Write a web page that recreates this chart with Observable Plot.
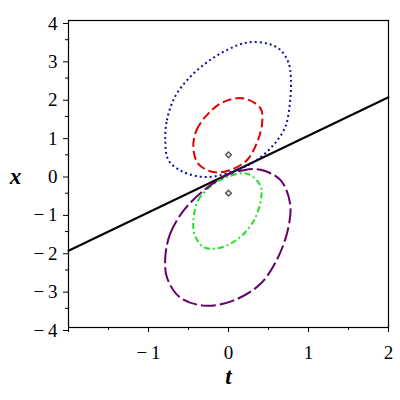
<!DOCTYPE html>
<html>
<head>
<meta charset="utf-8">
<script src="https://cdn.jsdelivr.net/npm/d3@7"></script>
<script src="https://cdn.jsdelivr.net/npm/@observablehq/plot@0.6"></script>
<style>
html,body{margin:0;padding:0;background:#fff;}
#chart svg, #chart svg text { font-family: "Liberation Serif", "Times New Roman", serif !important; }
</style>
</head>
<body>
<div id="chart"></div>
<script>
// Axis ticks
const xMajor = [-2, -1, 0, 1, 2];
const xLabels = ["", "\u2212\u20091", "0", "1", "2"];
const xMinor = [-1.5, -0.5, 0.5, 1.5];
const yMajor = [-4, -3, -2, -1, 0, 1, 2, 3, 4];
const yLabels = ["\u2212\u20094", "\u2212\u20093", "\u2212\u20092", "\u2212\u20091", "0", "1", "2", "3", "4"];
const yMinor = [-3.5, -2.5, -1.5, -0.5, 0.5, 1.5, 2.5, 3.5];

// Straight line
const lineT = [-2, 2];
const lineX = [-2, 2];

// Marked points
const ptT = [0, 0];
const ptX = [0.5, -0.5];

// Blue dotted curve (points read around the curve)
const blueT = [-0.79, -0.77, -0.67, -0.48, -0.23, 0.02, 0.25, 0.50, 0.65, 0.75, 0.78, 0.77, 0.71, 0.56, 0.35, 0.10, -0.27, -0.56, -0.75];
const blueX = [0.88, 1.40, 2.01, 2.53, 2.97, 3.27, 3.43, 3.39, 3.23, 2.90, 2.50, 1.90, 1.23, 0.75, 0.36, 0.10, -0.08, 0.05, 0.36];

// Red dashed curve
const redT = [-0.44, -0.40, -0.25, -0.06, 0.19, 0.40, 0.42, 0.35, 0.23, 0.02, -0.19, -0.38];
const redX = [0.70, 1.14, 1.58, 1.88, 1.97, 1.71, 1.32, 0.79, 0.36, 0.10, 0.05, 0.27];

// Green dash-dot curve
const greenT = [-0.44, -0.38, -0.21, -0.02, 0.23, 0.40, 0.41, 0.33, 0.15, -0.10, -0.31, -0.42];
const greenX = [-1.25, -0.69, -0.30, -0.08, 0.01, -0.30, -0.60, -1.16, -1.64, -1.92, -1.91, -1.60];

// Purple long-dash curve
const purpleT = [-0.79, -0.73, -0.56, -0.31, -0.02, 0.19, 0.40, 0.65, 0.77, 0.75, 0.62, 0.40, 0.06, -0.31, -0.61, -0.77];
const purpleX = [-2.17, -1.56, -0.95, -0.43, -0.03, 0.10, 0.11, -0.16, -0.77, -1.38, -2.17, -2.86, -3.30, -3.43, -3.21, -2.69];

const toPts = (ts, xs) => ts.map((t, i) => ({t, x: xs[i]}));
const serif = "Liberation Serif";

const curve = (ts, xs, color, dash) => Plot.line(toPts(ts, xs), {
  x: "t", y: "x", curve: "catmull-rom-closed",
  stroke: color, strokeWidth: 2, strokeDasharray: dash, strokeLinecap: "butt"
});

const chart = Plot.plot({
  width: 400,
  height: 400,
  marginLeft: 68,
  marginRight: 12,
  marginTop: 20,
  marginBottom: 73,
  style: {fontFamily: serif, fontSize: "19px", color: "black", background: "white"},
  x: {domain: [-2, 2]},
  y: {domain: [-4, 4]},
  marks: [
    Plot.frame({stroke: "black", strokeWidth: 1.2}),
    Plot.axisX(xMajor, {tickSize: 5, tickPadding: 13, tickFormat: d => xLabels[xMajor.indexOf(d)], label: null, fontSize: 19, fontFamily: serif}),
    Plot.axisX(xMinor, {tickSize: 3, tickFormat: () => "", label: null}),
    Plot.axisY(yMajor, {tickSize: 5, tickPadding: 6, tickFormat: d => yLabels[yMajor.indexOf(d)], label: null, fontSize: 19, fontFamily: serif, dy: 3}),
    Plot.axisY(yMinor, {tickSize: 3, tickFormat: () => "", label: null}),
    Plot.line(toPts(lineT, lineX), {x: "t", y: "x", stroke: "black", strokeWidth: 2}),
    curve(blueT, blueX, "#10109a", "2,3"),
    curve(redT, redX, "#e00000", "9,4"),
    curve(greenT, greenX, "#22e022", "6,3,2,3"),
    curve(purpleT, purpleX, "#660066", "15,4"),
    Plot.dot(toPts(ptT, ptX), {x: "t", y: "x", symbol: "diamond2", r: 2.6, stroke: "#555", strokeWidth: 1.4, fill: "#eee"}),
    Plot.text(["x"], {frameAnchor: "left", dx: -53, dy: 3, text: d => d, fontSize: 23, fontFamily: serif, fontWeight: "bold", fontStyle: "italic", textAnchor: "middle"}),
    Plot.text(["t"], {frameAnchor: "bottom", dy: 56, text: d => d, fontSize: 23, fontFamily: serif, fontWeight: "bold", fontStyle: "italic", textAnchor: "middle"})
  ]
});
document.getElementById("chart").appendChild(chart);
</script>
</body>
</html>
